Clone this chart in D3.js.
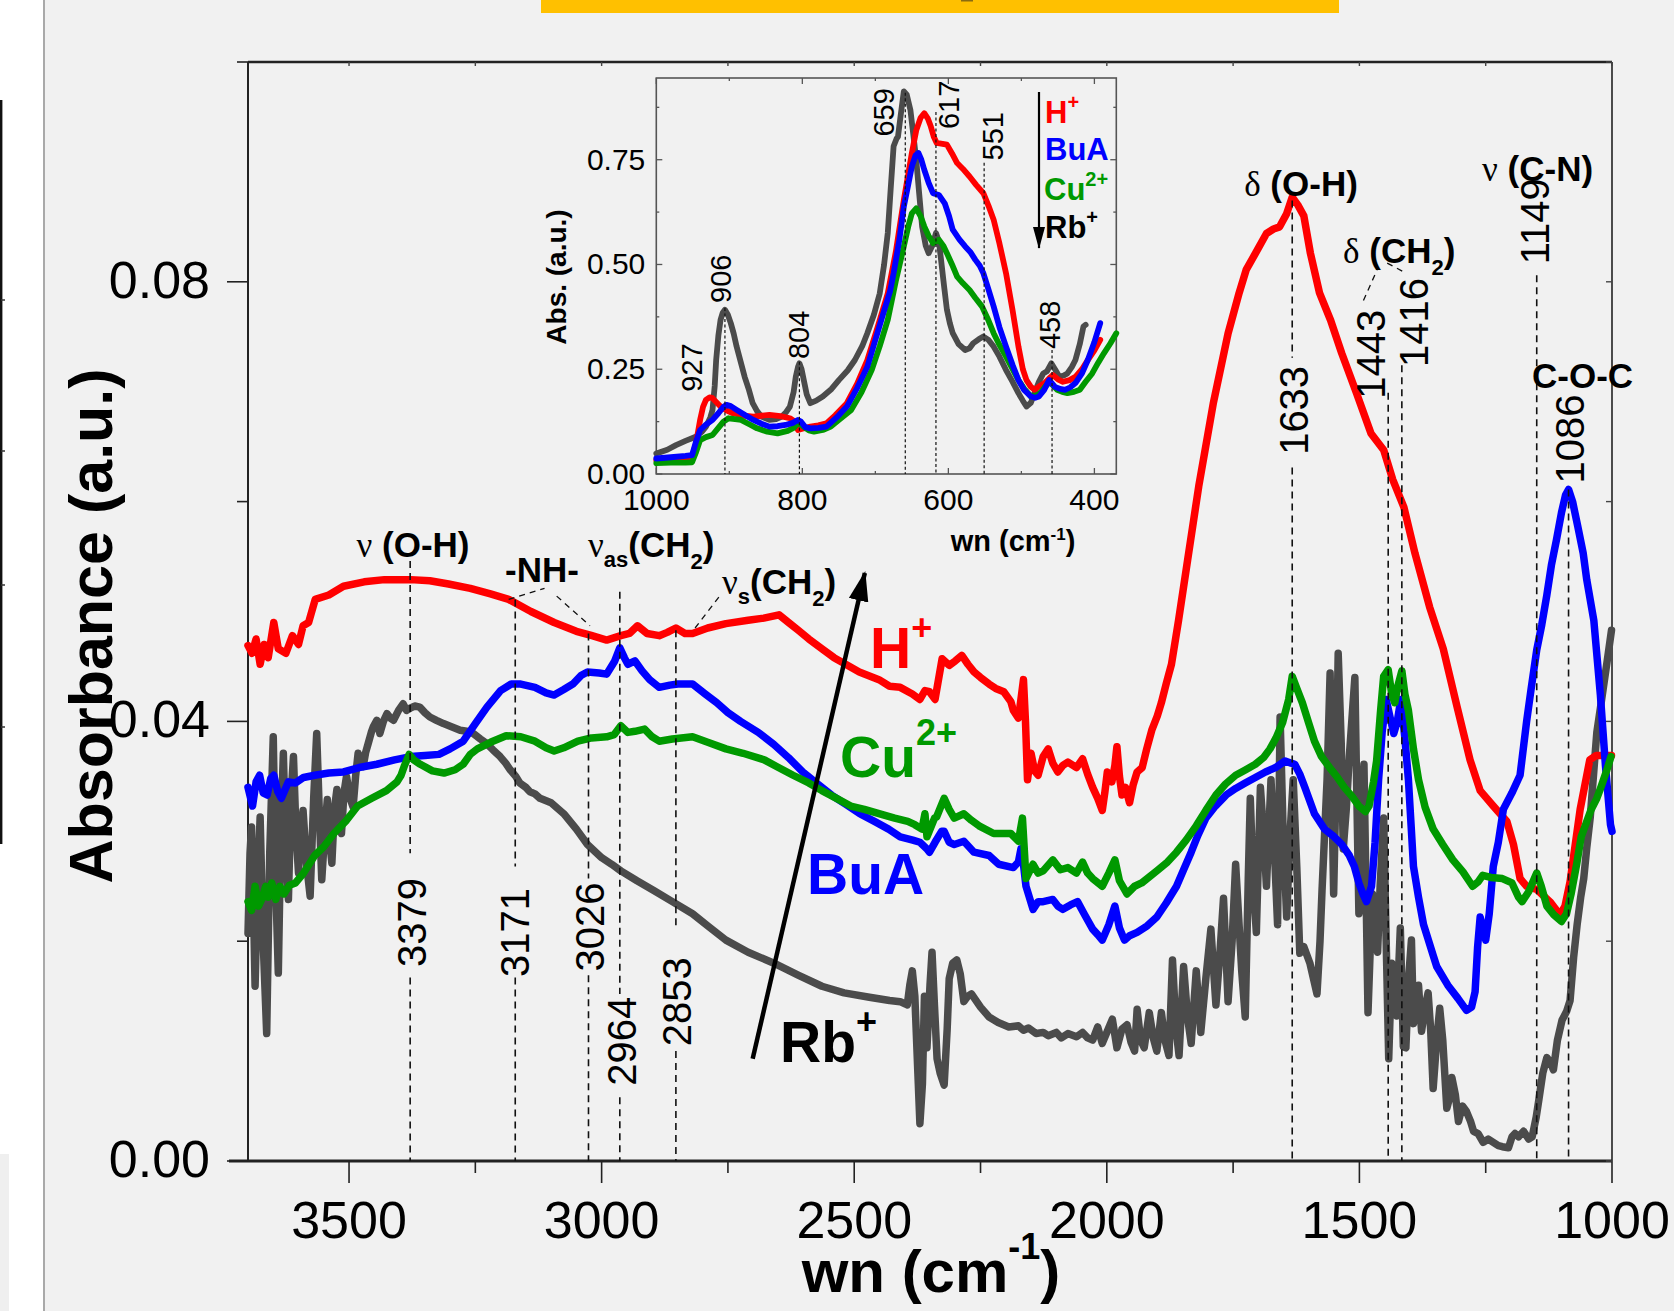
<!DOCTYPE html>
<html>
<head>
<meta charset="utf-8">
<script src="https://cdn.jsdelivr.net/npm/d3@7"></script>
<style>
  body { margin: 0; background: #f1f1f1; }
  svg { display: block; }
  text { font-family: "Liberation Sans", Arial, sans-serif; }
</style>
</head>
<body>
<svg id="chart"></svg>
<script>
// ---------------- data ----------------
// Main FTIR spectra, [wavenumber (cm-1), absorbance]
const hMain = [[3700,0.0469],[3692,0.0462],[3684,0.0475],[3676,0.0452],[3668,0.0470],[3660,0.0458],[3649,0.0490],[3640,0.0466],[3625,0.0462],[3612,0.0478],[3600,0.0470],[3591,0.0487],[3580,0.0490],[3567,0.0511],[3540,0.0515],[3511,0.0523],[3470,0.0527],[3430,0.0529],[3378,0.0529],[3340,0.0528],[3303,0.0525],[3260,0.0521],[3220,0.0516],[3184,0.0511],[3140,0.0500],[3094,0.0490],[3050,0.0482],[3019,0.0478],[2990,0.0474],[2962,0.0478],[2945,0.0480],[2929,0.0487],[2910,0.0480],[2886,0.0478],[2870,0.0481],[2853,0.0485],[2835,0.0480],[2820,0.0480],[2790,0.0485],[2754,0.0489],[2710,0.0492],[2679,0.0494],[2649,0.0497],[2630,0.0490],[2611,0.0483],[2590,0.0475],[2564,0.0466],[2540,0.0458],[2517,0.0452],[2490,0.0445],[2451,0.0438],[2430,0.0432],[2409,0.0431],[2385,0.0425],[2370,0.0420],[2360,0.0428],[2351,0.0427],[2340,0.0420],[2326,0.0457],[2312,0.0451],[2300,0.0455],[2287,0.0460],[2275,0.0452],[2263,0.0445],[2250,0.0440],[2233,0.0434],[2220,0.0430],[2204,0.0427],[2190,0.0418],[2185,0.0410],[2175,0.0403],[2170,0.0420],[2165,0.0438],[2161,0.0400],[2157,0.0347],[2150,0.0371],[2143,0.0355],[2136,0.0351],[2126,0.0368],[2116,0.0375],[2107,0.0362],[2097,0.0354],[2087,0.0360],[2077,0.0363],[2060,0.0358],[2048,0.0366],[2038,0.0352],[2028,0.0340],[2018,0.0330],[2009,0.0319],[2004,0.0335],[1999,0.0354],[1990,0.0345],[1984,0.0360],[1980,0.0377],[1975,0.0350],[1970,0.0333],[1963,0.0340],[1955,0.0326],[1948,0.0342],[1940,0.0354],[1930,0.0358],[1921,0.0375],[1911,0.0392],[1900,0.0405],[1892,0.0417],[1882,0.0435],[1872,0.0452],[1858,0.0492],[1840,0.0547],[1818,0.0614],[1789,0.0690],[1760,0.0753],[1738,0.0790],[1724,0.0811],[1702,0.0829],[1684,0.0844],[1670,0.0848],[1658,0.0850],[1644,0.0862],[1633,0.0877],[1622,0.0870],[1610,0.0860],[1597,0.0826],[1579,0.0790],[1557,0.0765],[1535,0.0735],[1506,0.0699],[1477,0.0662],[1452,0.0647],[1434,0.0620],[1412,0.0595],[1390,0.0553],[1361,0.0504],[1334,0.0466],[1307,0.0414],[1281,0.0365],[1261,0.0337],[1235,0.0323],[1208,0.0309],[1195,0.0288],[1182,0.0257],[1169,0.0250],[1149,0.0247],[1123,0.0236],[1103,0.0224],[1093,0.0232],[1083,0.0254],[1063,0.0320],[1044,0.0365],[1031,0.0369],[1001,0.0369]];

const buaMain = [[3700,0.0340],[3691,0.0323],[3684,0.0345],[3677,0.0351],[3670,0.0335],[3662,0.0333],[3655,0.0348],[3649,0.0351],[3641,0.0336],[3634,0.0330],[3620,0.0345],[3606,0.0344],[3590,0.0349],[3568,0.0351],[3540,0.0353],[3511,0.0354],[3480,0.0358],[3445,0.0361],[3410,0.0365],[3378,0.0368],[3350,0.0369],[3322,0.0370],[3300,0.0375],[3274,0.0382],[3250,0.0398],[3227,0.0413],[3200,0.0428],[3179,0.0434],[3160,0.0434],[3132,0.0431],[3110,0.0426],[3094,0.0424],[3075,0.0429],[3057,0.0434],[3040,0.0442],[3028,0.0445],[3005,0.0444],[2990,0.0443],[2974,0.0455],[2964,0.0467],[2955,0.0458],[2948,0.0452],[2934,0.0455],[2920,0.0446],[2905,0.0438],[2886,0.0431],[2865,0.0433],[2849,0.0434],[2820,0.0434],[2795,0.0425],[2772,0.0417],[2750,0.0408],[2725,0.0400],[2690,0.0390],[2659,0.0379],[2630,0.0367],[2602,0.0354],[2575,0.0344],[2545,0.0333],[2515,0.0324],[2489,0.0316],[2460,0.0309],[2432,0.0302],[2409,0.0295],[2384,0.0292],[2370,0.0290],[2356,0.0284],[2351,0.0281],[2340,0.0290],[2327,0.0300],[2322,0.0300],[2312,0.0290],[2302,0.0288],[2283,0.0291],[2263,0.0281],[2233,0.0278],[2214,0.0270],[2185,0.0267],[2175,0.0272],[2170,0.0284],[2165,0.0270],[2160,0.0250],[2146,0.0229],[2136,0.0236],[2126,0.0236],[2107,0.0238],[2097,0.0232],[2087,0.0229],[2072,0.0233],[2058,0.0236],[2045,0.0225],[2028,0.0211],[2018,0.0206],[2009,0.0201],[1996,0.0215],[1984,0.0232],[1975,0.0212],[1965,0.0201],[1955,0.0205],[1940,0.0208],[1920,0.0214],[1901,0.0222],[1882,0.0235],[1862,0.0250],[1848,0.0265],[1833,0.0281],[1820,0.0296],[1804,0.0312],[1785,0.0323],[1764,0.0333],[1745,0.0339],[1726,0.0344],[1706,0.0349],[1686,0.0354],[1666,0.0358],[1647,0.0364],[1635,0.0362],[1628,0.0361],[1618,0.0352],[1608,0.0340],[1589,0.0316],[1569,0.0302],[1550,0.0295],[1535,0.0288],[1520,0.0278],[1510,0.0268],[1501,0.0253],[1493,0.0243],[1486,0.0236],[1476,0.0250],[1469,0.0290],[1462,0.0347],[1455,0.0390],[1447,0.0420],[1440,0.0405],[1432,0.0389],[1425,0.0400],[1418,0.0420],[1410,0.0385],[1403,0.0347],[1397,0.0300],[1393,0.0268],[1383,0.0240],[1373,0.0215],[1354,0.0187],[1347,0.0177],[1325,0.0160],[1305,0.0148],[1288,0.0137],[1278,0.0140],[1271,0.0154],[1266,0.0195],[1261,0.0222],[1255,0.0210],[1250,0.0201],[1243,0.0225],[1235,0.0268],[1225,0.0290],[1215,0.0320],[1198,0.0335],[1182,0.0351],[1169,0.0400],[1160,0.0430],[1149,0.0465],[1139,0.0488],[1129,0.0515],[1120,0.0542],[1110,0.0565],[1100,0.0590],[1092,0.0606],[1086,0.0611],[1078,0.0600],[1068,0.0578],[1057,0.0553],[1050,0.0529],[1036,0.0492],[1023,0.0424],[1013,0.0360],[1003,0.0306],[1000,0.0300]];

const cuMain = [[3700,0.0236],[3693,0.0228],[3686,0.0250],[3679,0.0232],[3672,0.0239],[3665,0.0250],[3660,0.0240],[3653,0.0253],[3645,0.0238],[3637,0.0250],[3629,0.0243],[3618,0.0251],[3606,0.0253],[3590,0.0262],[3568,0.0278],[3550,0.0286],[3530,0.0298],[3505,0.0310],[3483,0.0323],[3455,0.0330],[3426,0.0337],[3405,0.0345],[3397,0.0351],[3390,0.0360],[3381,0.0370],[3372,0.0365],[3359,0.0361],[3335,0.0355],[3312,0.0353],[3290,0.0356],[3274,0.0361],[3260,0.0370],[3246,0.0375],[3220,0.0381],[3189,0.0387],[3160,0.0386],[3132,0.0382],[3110,0.0376],[3094,0.0373],[3075,0.0376],[3047,0.0382],[3020,0.0385],[2990,0.0386],[2975,0.0388],[2962,0.0396],[2948,0.0390],[2934,0.0391],[2915,0.0393],[2900,0.0386],[2886,0.0382],[2860,0.0384],[2820,0.0386],[2790,0.0381],[2754,0.0375],[2720,0.0371],[2678,0.0365],[2650,0.0358],[2621,0.0351],[2590,0.0344],[2564,0.0337],[2535,0.0330],[2507,0.0323],[2480,0.0320],[2451,0.0316],[2420,0.0312],[2394,0.0309],[2380,0.0306],[2366,0.0302],[2360,0.0316],[2356,0.0295],[2341,0.0312],[2337,0.0313],[2322,0.0330],[2312,0.0320],[2302,0.0312],[2283,0.0316],[2268,0.0310],[2253,0.0305],[2224,0.0298],[2190,0.0298],[2175,0.0291],[2167,0.0312],[2160,0.0257],[2146,0.0270],[2136,0.0262],[2126,0.0264],[2107,0.0274],[2092,0.0265],[2077,0.0267],[2060,0.0262],[2048,0.0272],[2038,0.0262],[2028,0.0257],[2009,0.0250],[1996,0.0262],[1984,0.0274],[1975,0.0255],[1960,0.0243],[1945,0.0250],[1931,0.0253],[1901,0.0264],[1880,0.0272],[1862,0.0281],[1843,0.0292],[1823,0.0305],[1804,0.0319],[1784,0.0333],[1765,0.0343],[1745,0.0351],[1725,0.0356],[1706,0.0361],[1690,0.0367],[1677,0.0375],[1665,0.0385],[1652,0.0399],[1640,0.0420],[1633,0.0441],[1624,0.0430],[1613,0.0417],[1600,0.0398],[1589,0.0382],[1575,0.0368],[1559,0.0358],[1545,0.0350],[1530,0.0340],[1515,0.0332],[1501,0.0323],[1488,0.0318],[1481,0.0323],[1472,0.0345],[1466,0.0364],[1458,0.0410],[1452,0.0441],[1443,0.0447],[1436,0.0425],[1430,0.0417],[1424,0.0432],[1416,0.0446],[1410,0.0425],[1403,0.0410],[1393,0.0375],[1383,0.0347],[1370,0.0322],[1354,0.0302],[1335,0.0288],[1315,0.0274],[1295,0.0263],[1276,0.0250],[1265,0.0254],[1256,0.0260],[1240,0.0258],[1217,0.0257],[1198,0.0253],[1185,0.0240],[1178,0.0236],[1165,0.0245],[1149,0.0262],[1140,0.0250],[1129,0.0232],[1115,0.0224],[1100,0.0218],[1090,0.0225],[1081,0.0243],[1070,0.0270],[1061,0.0295],[1042,0.0319],[1030,0.0330],[1022,0.0340],[1010,0.0356],[1002,0.0368]];

const rbMain = [[3700,0.0207],[3696,0.0280],[3693,0.0304],[3689,0.0230],[3686,0.0159],[3681,0.0250],[3676,0.0313],[3670,0.0200],[3663,0.0116],[3657,0.0280],[3650,0.0386],[3645,0.0250],[3640,0.0171],[3635,0.0300],[3630,0.0371],[3625,0.0280],[3620,0.0238],[3615,0.0330],[3610,0.0368],[3605,0.0300],[3600,0.0262],[3596,0.0300],[3591,0.0319],[3584,0.0270],[3577,0.0241],[3570,0.0330],[3564,0.0389],[3559,0.0320],[3554,0.0256],[3548,0.0300],[3543,0.0329],[3538,0.0290],[3534,0.0271],[3529,0.0320],[3524,0.0338],[3520,0.0310],[3515,0.0298],[3510,0.0335],[3505,0.0350],[3498,0.0330],[3492,0.0322],[3487,0.0350],[3482,0.0371],[3477,0.0362],[3472,0.0359],[3467,0.0372],[3462,0.0380],[3456,0.0390],[3452,0.0395],[3445,0.0401],[3439,0.0389],[3432,0.0400],[3425,0.0407],[3418,0.0403],[3412,0.0401],[3402,0.0410],[3393,0.0416],[3386,0.0410],[3379,0.0412],[3370,0.0414],[3360,0.0413],[3350,0.0408],[3340,0.0404],[3327,0.0401],[3313,0.0398],[3296,0.0395],[3280,0.0392],[3267,0.0391],[3254,0.0389],[3240,0.0384],[3228,0.0380],[3215,0.0374],[3201,0.0368],[3190,0.0362],[3181,0.0356],[3170,0.0350],[3162,0.0344],[3150,0.0340],[3142,0.0336],[3132,0.0334],[3122,0.0330],[3100,0.0326],[3075,0.0316],[3050,0.0302],[3028,0.0288],[3000,0.0276],[2980,0.0270],[2962,0.0264],[2930,0.0255],[2896,0.0246],[2860,0.0236],[2820,0.0225],[2790,0.0214],[2754,0.0201],[2710,0.0190],[2659,0.0180],[2610,0.0169],[2564,0.0159],[2520,0.0153],[2470,0.0149],[2430,0.0146],[2409,0.0145],[2395,0.0142],[2390,0.0160],[2385,0.0173],[2380,0.0150],[2374,0.0080],[2370,0.0034],[2365,0.0070],[2361,0.0150],[2356,0.0103],[2350,0.0160],[2346,0.0190],[2341,0.0140],[2336,0.0093],[2330,0.0080],[2322,0.0069],[2316,0.0120],[2312,0.0166],[2305,0.0180],[2297,0.0183],[2290,0.0170],[2283,0.0145],[2275,0.0150],[2268,0.0152],[2250,0.0140],[2233,0.0131],[2215,0.0126],[2194,0.0122],[2175,0.0123],[2165,0.0119],[2155,0.0121],[2140,0.0116],[2126,0.0117],[2116,0.0114],[2100,0.0117],[2090,0.0112],[2077,0.0116],[2060,0.0113],[2048,0.0117],[2038,0.0112],[2028,0.0110],[2018,0.0122],[2009,0.0107],[1999,0.0118],[1989,0.0129],[1980,0.0103],[1970,0.0120],[1960,0.0124],[1952,0.0108],[1945,0.0100],[1940,0.0138],[1933,0.0110],[1926,0.0103],[1916,0.0135],[1908,0.0112],[1901,0.0100],[1892,0.0135],[1885,0.0110],[1877,0.0096],[1870,0.0183],[1863,0.0120],[1857,0.0096],[1848,0.0177],[1840,0.0130],[1833,0.0107],[1823,0.0173],[1814,0.0117],[1804,0.0166],[1794,0.0211],[1784,0.0142],[1776,0.0190],[1769,0.0239],[1760,0.0145],[1752,0.0200],[1745,0.0270],[1733,0.0173],[1726,0.0131],[1720,0.0257],[1716,0.0330],[1710,0.0250],[1704,0.0208],[1696,0.0340],[1690,0.0300],[1684,0.0250],[1675,0.0347],[1668,0.0280],[1662,0.0215],[1657,0.0404],[1651,0.0300],[1644,0.0222],[1637,0.0300],[1631,0.0347],[1624,0.0268],[1618,0.0189],[1610,0.0195],[1598,0.0180],[1584,0.0152],[1578,0.0200],[1574,0.0246],[1564,0.0347],[1558,0.0444],[1555,0.0350],[1551,0.0243],[1546,0.0350],[1542,0.0462],[1536,0.0380],[1532,0.0284],[1526,0.0320],[1520,0.0368],[1509,0.0440],[1505,0.0330],[1501,0.0225],[1496,0.0300],[1491,0.0361],[1487,0.0250],[1483,0.0135],[1478,0.0200],[1474,0.0243],[1469,0.0220],[1464,0.0190],[1459,0.0250],[1452,0.0312],[1447,0.0200],[1442,0.0093],[1436,0.0180],[1430,0.0150],[1426,0.0132],[1419,0.0212],[1413,0.0104],[1408,0.0103],[1402,0.0170],[1397,0.0201],[1393,0.0125],[1388,0.0138],[1383,0.0160],[1377,0.0118],[1370,0.0140],[1364,0.0153],[1359,0.0120],[1354,0.0066],[1347,0.0110],[1341,0.0139],[1335,0.0110],[1327,0.0048],[1320,0.0060],[1317,0.0076],[1310,0.0060],[1304,0.0036],[1296,0.0050],[1288,0.0045],[1280,0.0036],[1274,0.0027],[1265,0.0025],[1255,0.0017],[1245,0.0020],[1235,0.0017],[1225,0.0014],[1217,0.0013],[1205,0.0012],[1198,0.0022],[1192,0.0025],[1185,0.0022],[1175,0.0027],[1165,0.0020],[1158,0.0022],[1150,0.0040],[1145,0.0055],[1137,0.0080],[1129,0.0094],[1122,0.0090],[1116,0.0083],[1108,0.0110],[1099,0.0128],[1090,0.0136],[1083,0.0146],[1076,0.0185],[1069,0.0215],[1062,0.0240],[1056,0.0257],[1050,0.0285],[1043,0.0313],[1036,0.0355],[1030,0.0390],[1023,0.0412],[1017,0.0431],[1008,0.0460],[1001,0.0483]];

// Inset (low-wavenumber region), [wavenumber (cm-1), absorbance]
const hInset = [[1000,0.033],[980,0.036],[960,0.039],[951,0.041],[946,0.070],[940,0.129],[936,0.160],[932,0.177],[927,0.183],[923,0.181],[918,0.172],[912,0.161],[904,0.152],[895,0.145],[880,0.139],[867,0.137],[856,0.139],[845,0.141],[830,0.138],[817,0.133],[810,0.125],[806,0.105],[800,0.108],[789,0.113],[778,0.116],[767,0.121],[755,0.140],[739,0.169],[725,0.215],[711,0.272],[697,0.350],[683,0.431],[672,0.530],[661,0.654],[655,0.715],[650,0.766],[644,0.820],[638,0.850],[633,0.861],[628,0.848],[624,0.829],[620,0.805],[616,0.790],[608,0.788],[602,0.786],[595,0.765],[588,0.742],[580,0.728],[571,0.710],[562,0.690],[552,0.670],[545,0.640],[538,0.607],[530,0.550],[521,0.479],[512,0.390],[504,0.304],[498,0.250],[493,0.224],[487,0.208],[482,0.201],[475,0.210],[468,0.217],[462,0.228],[457,0.236],[450,0.226],[443,0.220],[434,0.224],[426,0.232],[417,0.250],[409,0.272],[400,0.295],[392,0.320]];

const buaInset = [[1000,0.037],[980,0.040],[960,0.043],[951,0.045],[946,0.075],[940,0.105],[932,0.118],[923,0.129],[915,0.145],[908,0.160],[904,0.165],[898,0.162],[890,0.153],[878,0.140],[867,0.129],[856,0.120],[845,0.113],[834,0.114],[823,0.117],[813,0.122],[806,0.129],[802,0.125],[796,0.112],[789,0.109],[778,0.110],[767,0.113],[753,0.135],[739,0.161],[725,0.205],[711,0.256],[700,0.320],[689,0.384],[680,0.435],[675,0.479],[667,0.560],[661,0.638],[655,0.690],[650,0.734],[645,0.760],[641,0.766],[637,0.750],[633,0.726],[627,0.695],[621,0.670],[613,0.666],[605,0.646],[599,0.615],[594,0.583],[585,0.560],[577,0.543],[570,0.530],[563,0.511],[557,0.497],[552,0.479],[545,0.440],[538,0.400],[530,0.350],[521,0.304],[512,0.260],[504,0.224],[496,0.200],[487,0.185],[481,0.182],[476,0.185],[469,0.200],[462,0.224],[458,0.216],[454,0.208],[447,0.203],[440,0.201],[433,0.207],[426,0.217],[417,0.240],[409,0.272],[400,0.315],[392,0.360]];

const cuInset = [[1000,0.026],[980,0.027],[960,0.027],[951,0.028],[946,0.050],[940,0.081],[932,0.088],[923,0.093],[915,0.110],[908,0.125],[901,0.133],[892,0.131],[884,0.129],[872,0.118],[862,0.109],[848,0.101],[834,0.097],[820,0.103],[812,0.110],[806,0.121],[800,0.115],[791,0.104],[784,0.101],[772,0.105],[761,0.113],[748,0.132],[733,0.153],[719,0.195],[705,0.248],[694,0.305],[683,0.368],[672,0.460],[661,0.543],[655,0.590],[650,0.622],[644,0.634],[638,0.615],[633,0.591],[627,0.568],[621,0.551],[613,0.559],[607,0.545],[602,0.527],[595,0.500],[588,0.471],[580,0.455],[571,0.439],[563,0.420],[554,0.400],[546,0.370],[538,0.336],[530,0.308],[521,0.280],[512,0.250],[504,0.224],[496,0.203],[487,0.185],[476,0.189],[469,0.205],[462,0.220],[456,0.210],[451,0.201],[444,0.196],[437,0.193],[428,0.196],[420,0.201],[412,0.220],[403,0.240],[395,0.265],[387,0.288],[378,0.312],[370,0.336]];

const rbInset = [[1000,0.049],[985,0.058],[973,0.069],[960,0.079],[946,0.089],[938,0.100],[932,0.113],[926,0.135],[923,0.153],[920,0.210],[918,0.272],[915,0.330],[912,0.368],[909,0.385],[906,0.392],[902,0.380],[898,0.360],[894,0.335],[890,0.304],[884,0.265],[879,0.232],[873,0.200],[868,0.169],[862,0.150],[856,0.137],[845,0.129],[836,0.131],[828,0.137],[822,0.148],[817,0.161],[812,0.195],[809,0.232],[806,0.255],[804,0.264],[801,0.250],[798,0.224],[794,0.190],[789,0.169],[781,0.175],[772,0.185],[760,0.203],[750,0.224],[738,0.247],[728,0.272],[718,0.305],[711,0.336],[702,0.380],[694,0.431],[688,0.500],[683,0.575],[679,0.680],[675,0.782],[671,0.800],[669,0.805],[665,0.860],[661,0.913],[657,0.905],[652,0.869],[648,0.810],[644,0.750],[640,0.670],[636,0.591],[631,0.545],[627,0.527],[622,0.545],[617,0.575],[613,0.555],[610,0.511],[606,0.450],[602,0.392],[598,0.360],[594,0.336],[586,0.310],[577,0.296],[571,0.300],[566,0.312],[558,0.322],[552,0.328],[545,0.320],[538,0.304],[530,0.280],[521,0.248],[512,0.220],[504,0.193],[498,0.175],[493,0.161],[487,0.170],[482,0.193],[476,0.220],[470,0.240],[465,0.245],[459,0.264],[454,0.250],[448,0.232],[442,0.235],[437,0.240],[431,0.255],[426,0.272],[420,0.310],[415,0.352],[412,0.356]];

// axis ticks
const mainXTicks = [3500, 3000, 2500, 2000, 1500, 1000];
const mainXMinor = [3250, 2750, 2250, 1750, 1250];
const mainYTicks = [0, 0.04, 0.08];
const mainYMinor = [0.02, 0.06, 0.10];
const insetXTicks = [1000, 800, 600, 400];
const insetXMinor = [900, 700, 500];
const insetYTicks = [0, 0.25, 0.5, 0.75];
const insetYMinor = [0.125, 0.375, 0.625, 0.875];

// band assignments (cm-1)
const mainPeaks = [3379, 3171, 3026, 2964, 2853, 1633, 1443, 1416, 1149, 1086];
const insetPeaks = [906, 804, 659, 617, 551, 458];
const insetExtraLabel = [927];

// ---------------- layout ----------------
const W = 1674, H = 1311;
const colors = { "H+": "#ff0000", "BuA": "#0000ff", "Cu2+": "#009900", "Rb+": "#4b4b4b" };

const svg = d3.select("#chart").attr("width", W).attr("height", H);

// page surroundings
svg.append("rect").attr("width", W).attr("height", H).attr("fill", "#f1f1f1");
svg.append("rect").attr("x", 0).attr("y", 0).attr("width", 43).attr("height", H).attr("fill", "#ffffff");
svg.append("rect").attr("x", 0).attr("y", 1154).attr("width", 9).attr("height", H - 1154).attr("fill", "#efefef");
svg.append("line").attr("x1", 44).attr("x2", 44).attr("y1", 0).attr("y2", H)
  .attr("stroke", "#a9a9a9").attr("stroke-width", 2);
svg.append("line").attr("x1", 1.2).attr("x2", 1.2).attr("y1", 100).attr("y2", 844)
  .attr("stroke", "#111").attr("stroke-width", 2.4);
[300, 451, 585, 727].forEach(v => svg.append("line").attr("x1", 1).attr("x2", 5)
  .attr("y1", v).attr("y2", v).attr("stroke", "#333").attr("stroke-width", 1.5));
svg.append("rect").attr("x", 541).attr("y", 0).attr("width", 798).attr("height", 13).attr("fill", "#ffc000");
svg.append("rect").attr("x", 961).attr("y", 0).attr("width", 12).attr("height", 1.5).attr("fill", "#8a6b10");

// helper for text with sub/superscripts
function rich(parent, x, y, parts, o = {}) {
  const t = parent.append("text").attr("x", x).attr("y", y)
    .attr("font-size", o.size || 35).attr("font-weight", o.weight || "bold")
    .attr("fill", o.fill || "#000").attr("text-anchor", o.anchor || "start");
  if (o.transform) t.attr("transform", o.transform);
  let cur = 0;
  parts.forEach(p => {
    const s = p.shift || 0;
    const ts = t.append("tspan").text(p.t).attr("dy", s - cur);
    cur = s;
    if (p.size) ts.attr("font-size", p.size);
    if (p.serif) ts.attr("font-family", "'Liberation Serif', 'Times New Roman', serif").attr("font-weight", "normal");
  });
  return t;
}

// ---------------- main plot ----------------
const x = d3.scaleLinear().domain([3700, 1000]).range([248, 1612]);
const y = d3.scaleLinear().domain([0, 0.1]).range([1161, 62]);
const main = svg.append("g");

// frame
main.append("line").attr("x1", x(3700)).attr("x2", x(1000)).attr("y1", y(0.1)).attr("y2", y(0.1))
  .attr("stroke", "#222").attr("stroke-width", 2.4);
main.append("line").attr("x1", x(1000)).attr("x2", x(1000)).attr("y1", y(0.1)).attr("y2", y(0))
  .attr("stroke", "#222").attr("stroke-width", 1.6);
main.append("line").attr("x1", x(3700)).attr("x2", x(3700)).attr("y1", y(0.1)).attr("y2", y(0))
  .attr("stroke", "#222").attr("stroke-width", 2);
main.append("line").attr("x1", x(3700) - 19).attr("x2", x(1000)).attr("y1", y(0)).attr("y2", y(0))
  .attr("stroke", "#222").attr("stroke-width", 3);

// x ticks (outward) and top/right inner ticks
mainXTicks.forEach(v => main.append("line").attr("x1", x(v)).attr("x2", x(v))
  .attr("y1", y(0)).attr("y2", y(0) + 22).attr("stroke", "#222").attr("stroke-width", 1.6));
mainXMinor.forEach(v => main.append("line").attr("x1", x(v)).attr("x2", x(v))
  .attr("y1", y(0)).attr("y2", y(0) + 12).attr("stroke", "#222").attr("stroke-width", 1.6));
mainXTicks.concat(mainXMinor).forEach(v => main.append("line").attr("x1", x(v)).attr("x2", x(v))
  .attr("y1", y(0.1)).attr("y2", y(0.1) + 4).attr("stroke", "#444").attr("stroke-width", 1.4));
mainYTicks.forEach(v => main.append("line").attr("x1", x(3700) - 21).attr("x2", x(3700))
  .attr("y1", y(v)).attr("y2", y(v)).attr("stroke", "#222").attr("stroke-width", 1.6));
mainYMinor.forEach(v => main.append("line").attr("x1", x(3700) - 11).attr("x2", x(3700))
  .attr("y1", y(v)).attr("y2", y(v)).attr("stroke", "#222").attr("stroke-width", 1.6));
mainYTicks.concat(mainYMinor).forEach(v => main.append("line").attr("x1", x(1000) - 6).attr("x2", x(1000))
  .attr("y1", y(v)).attr("y2", y(v)).attr("stroke", "#444").attr("stroke-width", 1.4));

// tick labels
main.selectAll(".xl").data(mainXTicks).join("text")
  .attr("x", d => x(d)).attr("y", y(0) + 77).attr("text-anchor", "middle")
  .attr("font-size", 52).text(d => d3.format("d")(d));
main.selectAll(".yl").data(mainYTicks).join("text")
  .attr("x", x(3700) - 38).attr("y", d => y(d) + 16).attr("text-anchor", "end")
  .attr("font-size", 52).text(d => d3.format(".2f")(d));

// axis titles
rich(svg, 931, 1292, [{ t: "wn (cm" }, { t: "-1", size: 36, shift: -33 }, { t: ")" }],
  { size: 60, anchor: "middle" });
rich(svg, 0, 0, [{ t: "Absorbance (a.u.)" }],
  { size: 61, anchor: "middle", transform: "translate(112,626) rotate(-90)" });

// spectra
const lineMain = d3.line().x(d => x(d[0])).y(d => y(d[1]));
const mainSeries = [["Rb+", rbMain], ["H+", hMain], ["BuA", buaMain], ["Cu2+", cuMain]];
main.selectAll(".spec").data(mainSeries).join("path")
  .attr("d", d => lineMain(d[1])).attr("fill", "none")
  .attr("stroke", d => colors[d[0]]).attr("stroke-width", 7.5)
  .attr("stroke-linejoin", "round").attr("stroke-linecap", "round");

// band marker lines: [top, gap start, gap end] in absorbance, label centre, label x shift
const mainMarkLayout = {
  3379: { top: 0.0546, g1: 0.0280, g2: 0.0167, lab: 0.0217, dx: 2 },
  3171: { top: 0.0511, g1: 0.0268, g2: 0.0167, lab: 0.0208, dx: 0 },
  3026: { top: 0.0480, g1: 0.0257, g2: 0.0169, lab: 0.0213, dx: 2 },
  2964: { top: 0.0518, g1: 0.0152, g2: 0.0058, lab: 0.0109, dx: 2 },
  2853: { top: 0.0483, g1: 0.0211, g2: 0.0100, lab: 0.0145, dx: 1 },
  1633: { top: 0.0874, g1: 0.0731, g2: 0.0631, lab: 0.0683, dx: 2 },
  1443: { top: 0.0699, lab: 0.0734, dx: -17 },
  1416: { top: 0.0724, lab: 0.0763, dx: 12 },
  1149: { top: 0.0806, lab: 0.0855, dx: -2 },
  1086: { top: 0.0611, lab: 0.0657, dx: 1 }
};
const marks = main.append("g").attr("stroke", "#111").attr("stroke-width", 1.6)
  .attr("stroke-dasharray", "7,5");
mainPeaks.forEach(p => {
  const L = mainMarkLayout[p];
  const segs = L.g1 !== undefined ? [[L.top, L.g1], [L.g2, 0]] : [[L.top, 0]];
  segs.forEach(s => marks.append("line").attr("x1", x(p)).attr("x2", x(p))
    .attr("y1", y(s[0])).attr("y2", y(s[1])));
  main.append("text").attr("transform", `translate(${x(p) + L.dx},${y(L.lab)}) rotate(-90)`)
    .attr("text-anchor", "middle").attr("dominant-baseline", "central")
    .attr("font-size", 40).text(p);
});

// leader lines from assignment labels, [wn, absorbance] pairs
const leaders = [
  [[3184, 0.0511], [3113, 0.0521]],
  [[3089, 0.0514], [3023, 0.0487]],
  [[2768, 0.0513], [2815, 0.0485]],
  [[1492, 0.0783], [1463, 0.0813]],
  [[1445, 0.0817], [1408, 0.0808]]
];
leaders.forEach(l => marks.append("line")
  .attr("x1", x(l[0][0])).attr("y1", y(l[0][1])).attr("x2", x(l[1][0])).attr("y2", y(l[1][1]))
  .attr("stroke-width", 1.3).attr("stroke-dasharray", "6,5"));

// vibrational assignments
rich(main, 413, 557, [{ t: "ν", serif: true }, { t: " (O-H)" }], { anchor: "middle" });
rich(main, 542, 582, [{ t: "-NH-" }], { anchor: "middle" });
rich(main, 588, 557, [{ t: "ν", serif: true }, { t: "as", size: 22, shift: 10 }, { t: "(CH" }, { t: "2", size: 22, shift: 12 }, { t: ")" }]);
rich(main, 722, 594, [{ t: "ν", serif: true }, { t: "s", size: 22, shift: 10 }, { t: "(CH" }, { t: "2", size: 22, shift: 12 }, { t: ")" }]);
rich(main, 1301, 196, [{ t: "δ", serif: true }, { t: " (O-H)" }], { anchor: "middle" });
rich(main, 1343, 263, [{ t: "δ", serif: true }, { t: " (CH" }, { t: "2", size: 22, shift: 12 }, { t: ")" }]);
rich(main, 1482, 181, [{ t: "ν", serif: true }, { t: " (C-N)" }]);
rich(main, 1532, 388, [{ t: "C-O-C" }]);

// series labels
rich(main, 870, 668, [{ t: "H" }, { t: "+", size: 36, shift: -28 }], { size: 57, fill: colors["H+"] });
rich(main, 840, 777, [{ t: "Cu" }, { t: "2+", size: 36, shift: -32 }], { size: 57, fill: colors["Cu2+"] });
rich(main, 807, 894, [{ t: "BuA" }], { size: 57, fill: colors["BuA"] });
rich(main, 780, 1062, [{ t: "Rb" }, { t: "+", size: 36, shift: -28 }], { size: 57, fill: "#000" });

// trend arrow
const defs = svg.append("defs");
defs.append("marker").attr("id", "headBig").attr("markerUnits", "userSpaceOnUse")
  .attr("viewBox", "0 0 30 20").attr("refX", 28).attr("refY", 10)
  .attr("markerWidth", 30).attr("markerHeight", 20).attr("orient", "auto")
  .append("path").attr("d", "M0,0 L30,10 L0,20 Z").attr("fill", "#000");
defs.append("marker").attr("id", "headSmall").attr("markerUnits", "userSpaceOnUse")
  .attr("viewBox", "0 0 22 12").attr("refX", 21).attr("refY", 6)
  .attr("markerWidth", 22).attr("markerHeight", 12).attr("orient", "auto")
  .append("path").attr("d", "M0,0 L22,6 L0,12 Z").attr("fill", "#000");
main.append("line").attr("x1", x(2701)).attr("y1", y(0.0093)).attr("x2", x(2479)).attr("y2", y(0.0535))
  .attr("stroke", "#000").attr("stroke-width", 4.5).attr("marker-end", "url(#headBig)");

// ---------------- inset ----------------
const xi = d3.scaleLinear().domain([1000, 370]).range([656.3, 1116.3]);
const yi = d3.scaleLinear().domain([0, 0.945]).range([474, 78]);
const ins = svg.append("g");

ins.append("rect").attr("x", xi(1000)).attr("y", yi(0.945)).attr("width", xi(370) - xi(1000))
  .attr("height", yi(0) - yi(0.945)).attr("fill", "none").attr("stroke", "#555").attr("stroke-width", 1.6);

insetYTicks.forEach(v => {
  ins.append("line").attr("x1", xi(1000)).attr("x2", xi(1000) + 6).attr("y1", yi(v)).attr("y2", yi(v)).attr("stroke", "#555").attr("stroke-width", 1.3);
  ins.append("line").attr("x1", xi(370) - 6).attr("x2", xi(370)).attr("y1", yi(v)).attr("y2", yi(v)).attr("stroke", "#555").attr("stroke-width", 1.3);
});
insetYMinor.forEach(v => {
  ins.append("line").attr("x1", xi(1000)).attr("x2", xi(1000) + 3).attr("y1", yi(v)).attr("y2", yi(v)).attr("stroke", "#555").attr("stroke-width", 1.3);
  ins.append("line").attr("x1", xi(370) - 3).attr("x2", xi(370)).attr("y1", yi(v)).attr("y2", yi(v)).attr("stroke", "#555").attr("stroke-width", 1.3);
});
insetXTicks.forEach(v => {
  ins.append("line").attr("x1", xi(v)).attr("x2", xi(v)).attr("y1", yi(0)).attr("y2", yi(0) - 6).attr("stroke", "#555").attr("stroke-width", 1.3);
  ins.append("line").attr("x1", xi(v)).attr("x2", xi(v)).attr("y1", yi(0.945)).attr("y2", yi(0.945) + 6).attr("stroke", "#555").attr("stroke-width", 1.3);
});
insetXMinor.forEach(v => {
  ins.append("line").attr("x1", xi(v)).attr("x2", xi(v)).attr("y1", yi(0)).attr("y2", yi(0) - 3).attr("stroke", "#555").attr("stroke-width", 1.3);
  ins.append("line").attr("x1", xi(v)).attr("x2", xi(v)).attr("y1", yi(0.945)).attr("y2", yi(0.945) + 3).attr("stroke", "#555").attr("stroke-width", 1.3);
});

ins.selectAll(".ixl").data(insetXTicks).join("text")
  .attr("x", d => xi(d)).attr("y", yi(0) + 36).attr("text-anchor", "middle")
  .attr("font-size", 30).text(d => d);
ins.selectAll(".iyl").data(insetYTicks).join("text")
  .attr("x", xi(1000) - 11).attr("y", d => yi(d) + 10).attr("text-anchor", "end")
  .attr("font-size", 30).text(d => d3.format(".2f")(d));

rich(svg, 1013, 551, [{ t: "wn (cm" }, { t: "-1", size: 17, shift: -11 }, { t: ")" }], { size: 29, anchor: "middle" });
rich(svg, 0, 0, [{ t: "Abs. (a.u.)" }], { size: 28, anchor: "middle", transform: "translate(566,277) rotate(-90)" });

const lineInset = d3.line().x(d => xi(d[0])).y(d => yi(d[1]));
const insetSeries = [["Rb+", rbInset], ["H+", hInset], ["Cu2+", cuInset], ["BuA", buaInset]];
ins.selectAll(".ispec").data(insetSeries).join("path")
  .attr("d", d => lineInset(d[1])).attr("fill", "none")
  .attr("stroke", d => colors[d[0]]).attr("stroke-width", 5.8)
  .attr("stroke-linejoin", "round").attr("stroke-linecap", "round");

const insetMarkLayout = {
  906: { top: 0.396, lab: 0.466, dx: -4 },
  804: { top: 0.268, lab: 0.332, dx: 0 },
  659: { top: 0.910, lab: 0.863, dx: -21 },
  617: { top: 0.864, lab: 0.881, dx: 13 },
  551: { top: 0.743, lab: 0.806, dx: 9 },
  458: { top: 0.296, lab: 0.356, dx: -2 },
  927: { lab: 0.254, dx: -18 }
};
const imarks = ins.append("g").attr("stroke", "#111").attr("stroke-width", 1.2).attr("stroke-dasharray", "3,2.5");
insetPeaks.forEach(p => imarks.append("line").attr("x1", xi(p)).attr("x2", xi(p))
  .attr("y1", yi(insetMarkLayout[p].top)).attr("y2", yi(0)));
insetPeaks.concat(insetExtraLabel).forEach(p => {
  const L = insetMarkLayout[p];
  ins.append("text").attr("transform", `translate(${xi(p) + L.dx},${yi(L.lab)}) rotate(-90)`)
    .attr("text-anchor", "middle").attr("dominant-baseline", "central")
    .attr("font-size", 29).text(p);
});

// inset legend with order arrow
ins.append("line").attr("x1", 1039).attr("x2", 1039).attr("y1", 92).attr("y2", 248)
  .attr("stroke", "#000").attr("stroke-width", 2.2).attr("marker-end", "url(#headSmall)");
rich(ins, 1045, 123, [{ t: "H" }, { t: "+", size: 20, shift: -14 }], { size: 31, fill: colors["H+"] });
rich(ins, 1045, 160, [{ t: "BuA" }], { size: 31, fill: colors["BuA"] });
rich(ins, 1044, 200, [{ t: "Cu" }, { t: "2+", size: 20, shift: -14 }], { size: 31, fill: colors["Cu2+"] });
rich(ins, 1045, 238, [{ t: "Rb" }, { t: "+", size: 20, shift: -14 }], { size: 31, fill: "#000" });
</script>
</body>
</html>
